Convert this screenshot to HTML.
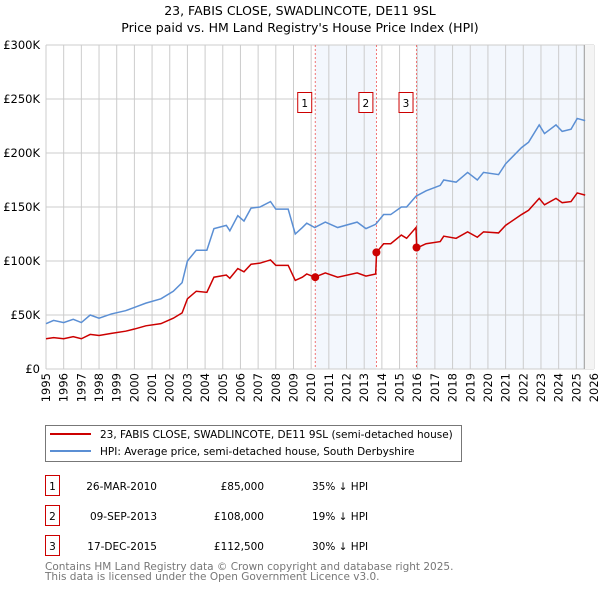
<!DOCTYPE html>
<html><head><meta charset="utf-8"><style>
body{margin:0;background:#fff;font-family:"Liberation Sans","DejaVu Sans",sans-serif;}
svg text{font-family:"DejaVu Sans","Liberation Sans",sans-serif;}
</style></head><body>
<svg id="chart" width="600" height="590" viewBox="0 0 600 590" xmlns="http://www.w3.org/2000/svg">
<text x="300" y="15" text-anchor="middle" font-size="12.5" fill="#000">23, FABIS CLOSE, SWADLINCOTE, DE11 9SL</text>
<text x="300" y="32" text-anchor="middle" font-size="12.5" fill="#000">Price paid vs. HM Land Registry's House Price Index (HPI)</text>
<g id="plot"></g>
<g>
<rect x="45.5" y="425.5" width="416" height="36" fill="#fff" stroke="#777"/>
<line x1="50" y1="434" x2="91" y2="434" stroke="#cc0000" stroke-width="2"/>
<text x="100" y="438" font-size="10.5">23, FABIS CLOSE, SWADLINCOTE, DE11 9SL (semi-detached house)</text>
<line x1="50" y1="451" x2="91" y2="451" stroke="#5b8fd4" stroke-width="2"/>
<text x="100" y="455" font-size="10.5">HPI: Average price, semi-detached house, South Derbyshire</text>
</g>
<g font-size="10.5">
<rect x="45.5" y="475.5" width="14" height="20" fill="none" stroke="#cc0000"/><text x="52.5" y="490" text-anchor="middle">1</text>
<text x="157" y="490" text-anchor="end">26-MAR-2010</text><text x="264" y="490" text-anchor="end">£85,000</text><text x="312" y="490">35% ↓ HPI</text>
<rect x="45.5" y="505.5" width="14" height="20" fill="none" stroke="#cc0000"/><text x="52.5" y="520" text-anchor="middle">2</text>
<text x="157" y="520" text-anchor="end">09-SEP-2013</text><text x="264" y="520" text-anchor="end">£108,000</text><text x="312" y="520">19% ↓ HPI</text>
<rect x="45.5" y="535.5" width="14" height="20" fill="none" stroke="#cc0000"/><text x="52.5" y="550" text-anchor="middle">3</text>
<text x="157" y="550" text-anchor="end">17-DEC-2015</text><text x="264" y="550" text-anchor="end">£112,500</text><text x="312" y="550">30% ↓ HPI</text>
</g>
<text x="45" y="570" font-size="10.5" fill="#777">Contains HM Land Registry data © Crown copyright and database right 2025.</text>
<text x="45" y="580" font-size="10.5" fill="#777">This data is licensed under the Open Government Licence v3.0.</text>
</svg>
<script>
const yearTicks=[1995,1996,1997,1998,1999,2000,2001,2002,2003,2004,2005,2006,2007,2008,2009,2010,2011,2012,2013,2014,2015,2016,2017,2018,2019,2020,2021,2022,2023,2024,2025,2026];
const valueTicks=[0,50,100,150,200,250,300];
const valueLabels=["£0","£50K","£100K","£150K","£200K","£250K","£300K"];
const hpiDates=[1995.0,1995.43,1996.0,1996.54,1997.0,1997.5,1998.0,1998.7,1999.5,2000.0,2000.65,2001.5,2002.2,2002.7,2003.0,2003.5,2004.1,2004.5,2005.2,2005.4,2005.85,2006.2,2006.6,2007.1,2007.7,2008.0,2008.7,2009.1,2009.5,2009.75,2010.2,2010.8,2011.5,2012.6,2013.1,2013.65,2014.1,2014.5,2015.1,2015.4,2015.93,2016.5,2017.3,2017.5,2018.2,2018.85,2019.4,2019.75,2020.6,2021.0,2021.9,2022.3,2022.9,2023.2,2023.85,2024.2,2024.7,2025.05,2025.5];
const hpiValues=[42,45,43,46,43,50,47,51,54,57,61,65,72,80,100,110,110,130,133,128,142,137,149,150,155,148,148,125,131,135,131,136,131,136,130,134,143,143,150,150,160,165,170,175,173,182,175,182,180,190,205,210,226,218,226,220,222,232,230];
const priceDates=[1995.0,1995.43,1996.0,1996.54,1997.0,1997.5,1998.0,1998.7,1999.5,2000.0,2000.65,2001.5,2002.2,2002.7,2003.0,2003.5,2004.1,2004.5,2005.2,2005.4,2005.85,2006.2,2006.6,2007.1,2007.7,2008.0,2008.7,2009.1,2009.5,2009.75,2010.2,2010.8,2011.5,2012.6,2013.1,2013.65,2013.7,2014.1,2014.5,2015.1,2015.4,2015.93,2015.97,2016.5,2017.3,2017.5,2018.2,2018.85,2019.4,2019.75,2020.6,2021.0,2021.9,2022.3,2022.9,2023.2,2023.85,2024.2,2024.7,2025.05,2025.5];
const priceValues=[28,29,28,30,28,32,31,33,35,37,40,42,47,52,65,72,71,85,87,84,93,90,97,98,101,96,96,82,85,88,85,89,85,89,86,88,108,116,116,124,121,131,112,116,118,123,121,127,122,127,126,133,143,147,158,152,158,154,155,163,161];
const saleDates=[2010.23,2013.69,2015.96];
const saleValues=[85,108,112.5];
const saleLabels=["1","2","3"];

const NS="http://www.w3.org/2000/svg";
const X0=46,X1=594,Y0=369,Y1=45;
const xs=y=>X0+(y-1995)/(2026-1995)*(X1-X0);
const ys=v=>Y0-v/300*(Y0-Y1);
const g=document.getElementById('plot');
function mk(t,a){const e=document.createElementNS(NS,t);for(const k in a)e.setAttribute(k,a[k]);g.appendChild(e);return e;}

let r=mk('rect',{x:xs(saleDates[0]),y:Y1,width:xs(saleDates[1])-xs(saleDates[0]),height:Y0-Y1,fill:'#eef3fc',opacity:0.7});


r=mk('rect',{x:xs(saleDates[2]),y:Y1,width:X1-xs(saleDates[2]),height:Y0-Y1,fill:'#eef3fc',opacity:0.7});



yearTicks.forEach(yr=>{
 const l=mk('line',{x1:xs(yr),x2:xs(yr),y1:Y1,y2:Y0,stroke:'#ccc','stroke-width':1});
 
 
 const t=mk('text',{x:0,y:0,'font-size':11.5,transform:`translate(${xs(yr)+4},${Y0+4}) rotate(-90)`,'text-anchor':'end'});
 t.textContent=yr;
 
 
});
valueTicks.forEach((v,i)=>{
 const l=mk('line',{x1:X0,x2:X1,y1:ys(v),y2:ys(v),stroke:'#ccc','stroke-width':1});
 
 
 const t=mk('text',{x:X0-6,y:ys(v)+4,'font-size':11.5,'text-anchor':'end'});
 t.textContent=valueLabels[i];
 
 
});
// hatched future region
const hx=xs(2025.45);
const hat=mk('rect',{x:hx,y:Y1,width:X1-hx,height:Y0-Y1,fill:'#f4f4f4'});


const hl=mk('line',{x1:hx,x2:hx,y1:Y1,y2:Y0,stroke:'#999','stroke-width':1});



saleDates.forEach((d,i)=>{
 const l=mk('line',{x1:xs(d),x2:xs(d),y1:Y1,y2:Y0,stroke:'#e55','stroke-width':0.8,'stroke-dasharray':'2,2'});
 
 
 const b=mk('rect',{x:xs(d)-17.5,y:92.5,width:14,height:20,fill:'#fff',stroke:'#cc0000'});
 
 
 const t=mk('text',{x:xs(d)-10.5,y:107,'font-size':10.5,'text-anchor':'middle'});
 t.textContent=saleLabels[i];
 
 
});

const hp=mk('polyline',{points:hpiDates.map((d,i)=>xs(d)+','+ys(hpiValues[i])).join(' '),fill:'none',stroke:'#5b8fd4','stroke-width':1.5});


const pp=mk('polyline',{points:priceDates.map((d,i)=>xs(d)+','+ys(priceValues[i])).join(' '),fill:'none',stroke:'#cc0000','stroke-width':1.5});


saleDates.forEach((d,i)=>{
 const c=mk('circle',{cx:xs(d),cy:ys(saleValues[i]),r:4,fill:'#cc0000'});
 
 
});
</script>
</body></html>
